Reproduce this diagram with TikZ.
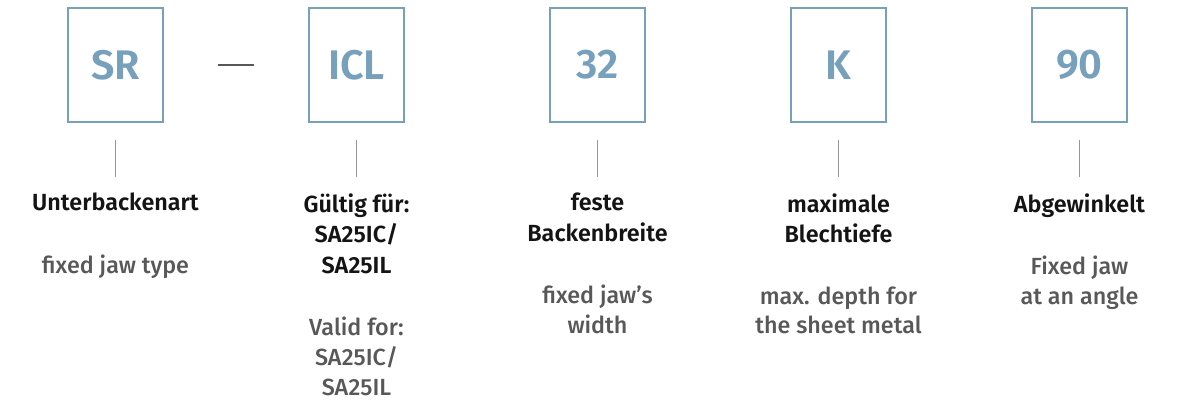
\documentclass[tikz,border=0pt]{standalone}
\usepackage{fontspec}
\setmainfont{Fira Sans}[BoldFont={Fira Sans SemiBold}]
\newfontfamily\enfont{Fira Sans}[UprightFont={* Medium}]
\usepackage{xcolor}
\usepackage{tikz}
\usetikzlibrary{positioning}

\definecolor{codeblue}{RGB}{118,160,188}
\definecolor{engray}{RGB}{88,88,88}
\definecolor{degray}{RGB}{20,20,20}
\definecolor{tickgray}{RGB}{150,150,150}

\tikzset{
  codebox/.style={draw=codeblue, line width=1.5pt, minimum width=71pt, minimum height=85.5pt,
    text=codeblue, font=\bfseries\fontsize{31}{31}\selectfont},
  detext/.style={align=center, anchor=north, inner sep=0pt, text depth=0pt, text=degray,
    font=\bfseries\fontsize{17.5}{22.9}\selectfont},
  entext/.style={align=center, anchor=north, inner sep=0pt, text=engray,
    font=\enfont\fontsize{17.5}{22.4}\selectfont},
  tick/.style={draw=tickgray, line width=1pt},
}

\begin{document}
\begin{tikzpicture}[x=0.75pt,y=-0.75pt]
\useasboundingbox (0,0) rectangle (1180,401);

% code boxes with German and English meaning below
\foreach \i/\code/\de/\en in {0/SR/{Unterbackenart}/{fixed jaw type},
    1/ICL/{Gültig für:\\SA25IC/\\SA25IL}/{Valid for:\\SA25IC/\\SA25IL},
    2/32/{feste\\Backenbreite}/{fixed jaw’s\\width},
    3/K/{maximale\\Blechtiefe}/{max. depth for\\the sheet metal},
    4/90/{Abgewinkelt}/{Fixed jaw\\at an angle}} {
    \node[codebox] (box\i) at (115.5+\i*241, 65) {\code};
    \node[detext] (de\i) at (115.5+\i*241, 193) {\de};
    \node[entext, below=32.5pt of de\i] (en\i) {\en};
    \draw[tick, shorten <=13pt, shorten >=12pt] (box\i) -- (de\i);
}

% separator between SR and ICL
\draw[draw=engray, line width=1pt, shorten <=40.5pt, shorten >=41pt] (box0) -- (box1);
\end{tikzpicture}
\end{document}
